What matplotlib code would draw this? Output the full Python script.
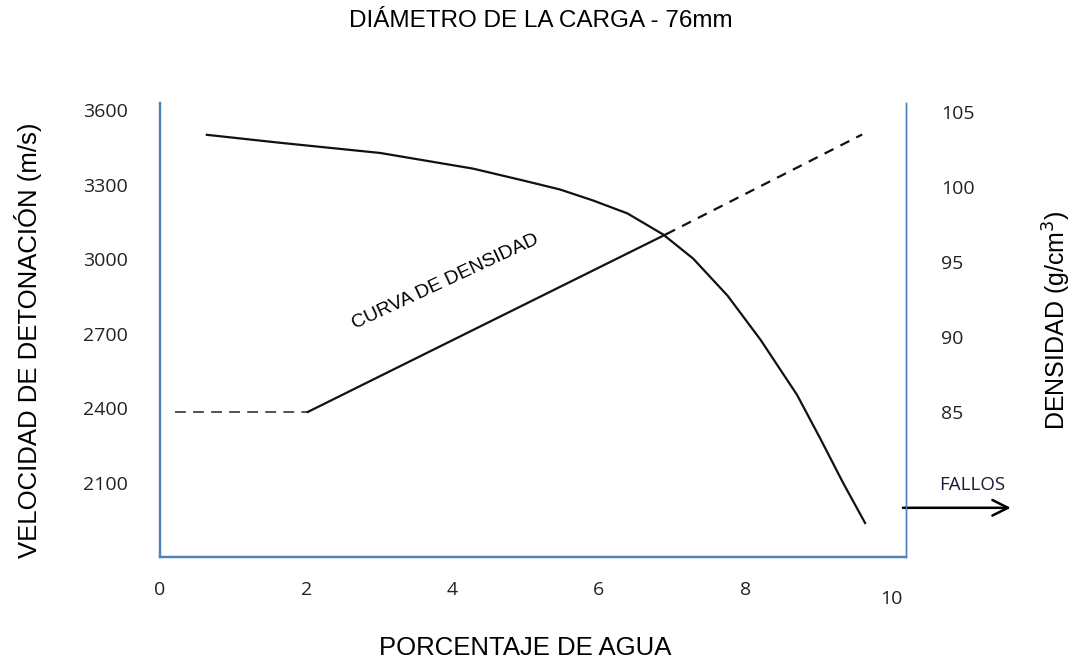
import numpy as np
import matplotlib.pyplot as plt

# porcentaje de agua vs velocidad de detonación (m/s)
agua_vel = [0.64, 1.64, 3.01, 4.28, 4.97, 5.47, 5.92, 6.39, 6.88, 7.29, 7.76, 8.21, 8.71, 9.03, 9.34, 9.64]
velocidad = [3500, 3468, 3427, 3364, 3316, 3280, 3236, 3184, 3099, 3002, 2853, 2676, 2454, 2277, 2100, 1939]

# curva de densidad: tramo medido (sólido) y extrapolaciones (discontinuas)
agua_dens_ini = [0.21, 2.02]
dens_ini = [85, 85]
agua_dens = [2.02, 6.92]
dens = [85, 96.85]
agua_dens_fin = [6.92, 9.60]
dens_fin = [96.85, 103.5]

x_ticks = [0, 2, 4, 6, 8, 10]
vel_ticks = [2100, 2400, 2700, 3000, 3300, 3600]
dens_ticks = [85, 90, 95, 100, 105]

fuente = 'Liberation Sans'
azul = '#4f81bd'

fig = plt.figure(figsize=(10.74, 6.61), dpi=100)
ax = fig.add_axes([0.149, 0.1573, 0.6946, 0.6869])
ax2 = ax.twinx()

ax.plot(agua_vel, velocidad, color='#111111', lw=1.6)

ax2.plot(agua_dens_ini, dens_ini, color='#444444', lw=1.3, dashes=(6, 4))
ax2.plot(agua_dens, dens, color='#111111', lw=1.6)
ax2.plot(agua_dens_fin, dens_fin, color='#111111', lw=1.6, dashes=(4.5, 3.5))

ax.set_xlim(0, 10.2)
ax.set_ylim(1802, 3628)
ax2.set_ylim(75.33, 105.6)

ax.set_xticks(x_ticks)
ax.set_yticks(vel_ticks)
ax2.set_yticks(dens_ticks)
ax.tick_params(axis='x', length=0, pad=17, labelsize=14)
ax.tick_params(axis='y', length=0, pad=23, labelsize=14)
ax2.tick_params(axis='y', length=0, pad=25, labelsize=14)
for lab in ax.get_xticklabels() + ax.get_yticklabels() + ax2.get_yticklabels():
    lab.set_family('Open Sans')
    lab.set_color('#222222')
ax.get_xticklabels()[-1].set_y(-0.02)  # el "10" queda algo más bajo

for a in (ax, ax2):
    a.spines['top'].set_visible(False)
    a.spines['left'].set_color(azul)
    a.spines['bottom'].set_color(azul)
    a.spines['right'].set_color(azul)
    a.spines['left'].set_linewidth(1.6)
    a.spines['bottom'].set_linewidth(1.6)
    a.spines['right'].set_linewidth(1.0)

ax.set_xlabel('PORCENTAJE DE AGUA', family=fuente, fontsize=18.5, va='center')
ax.xaxis.set_label_coords(0.489, -0.2)
ax.set_ylabel('VELOCIDAD DE DETONACIÓN (m/s)', family=fuente, fontsize=18.5, va='center')
ax.yaxis.set_label_coords(-0.177, 0.478)
ax2.set_ylabel('DENSIDAD (g/cm$^3$)', family=fuente, fontsize=18, rotation=90, va='center')
ax2.yaxis.set_label_coords(1.202, 0.522)

fig.text(0.504, 0.968, 'DIÁMETRO DE LA CARGA - 76mm', family=fuente, fontsize=17.5,
         ha='center', va='center')

ax.text(3.90, 2908, 'CURVA DE DENSIDAD', family=fuente, fontsize=14,
        rotation=25, ha='center', va='center', rotation_mode='anchor')

# flecha de fallos a la derecha del gráfico
ax.annotate('', xy=(11.67, 2000), xytext=(10.12, 2000), annotation_clip=False,
            arrowprops=dict(arrowstyle='->', color='black', lw=1.8, mutation_scale=28))
ax.text(11.1, 2090, 'FALLOS', family='Open Sans', fontsize=13.5, ha='center', va='center',
        color='#1a1a3a', clip_on=False)

fig.savefig('out.png', dpi=100)
